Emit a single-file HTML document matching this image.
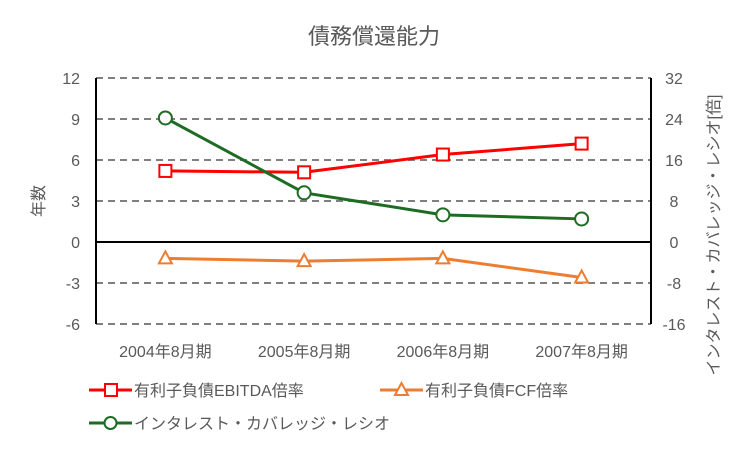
<!DOCTYPE html>
<html><head><meta charset="utf-8"><style>
body{margin:0;background:#fff}
svg text{font-family:"Liberation Sans","Noto Sans CJK JP",sans-serif;fill:#595959}
</style></head><body>
<svg id="chart" width="749" height="450" xmlns="http://www.w3.org/2000/svg">
<rect width="749" height="450" fill="#fff"/>
<text x="374" y="44" font-size="22" text-anchor="middle">債務償還能力</text>
<text transform="translate(44,201) rotate(-90)" font-size="16" text-anchor="middle">年数</text>
<text transform="translate(719,235) rotate(-90)" font-size="16" text-anchor="middle">インタレスト・カバレッジ・レシオ[倍]</text>
<g id="grid"></g><g id="axes"></g><g id="series"></g>
<g>
<g>
<line x1="89" y1="390" x2="132" y2="390" stroke="#ff0000" stroke-width="3"/><rect x="105" y="384" width="12" height="12" fill="#fff" stroke="#ff0000" stroke-width="2"/>
<text x="134" y="396" font-size="16">有利子負債EBITDA倍率</text></g>
<g>
<line x1="380" y1="390" x2="423" y2="390" stroke="#ed7d31" stroke-width="3"/><polygon points="401.5,383 408,395 395,395" fill="#fff" stroke="#ed7d31" stroke-width="2"/>
<text x="425" y="396" font-size="16">有利子負債FCF倍率</text></g>
<g>
<line x1="89" y1="423" x2="132" y2="423" stroke="#1e6b24" stroke-width="3"/><circle cx="110.5" cy="423" r="6" fill="#fff" stroke="#1e6b24" stroke-width="2"/>
<text x="134" y="429" font-size="16">インタレスト・カバレッジ・レシオ</text></g>
</g>
</svg>
<script>
const categories=["2004年8月期","2005年8月期","2006年8月期","2007年8月期"];
const leftTicks=[12,9,6,3,0,-3,-6];
const rightTicks=[32,24,16,8,0,-8,-16];
const ebitda=[5.2,5.1,6.4,7.2];
const fcf=[-1.2,-1.4,-1.2,-2.6];
const icr=[24.2,9.6,5.3,4.5];
const NS="http://www.w3.org/2000/svg";
const L=96,R=651,T=78,B=324;
const yL=v=>T+(12-v)/18*(B-T);
const yR=v=>T+(32-v)/48*(B-T);
const xC=i=>L+(i+0.5)*(R-L)/categories.length;
function mk(tag,attrs,parent){const e=document.createElementNS(NS,tag);for(const k in attrs)e.setAttribute(k,attrs[k]);document.getElementById(parent).appendChild(e);return e;}
leftTicks.forEach(v=>{
 if(v!==0){const g=mk('line',{x1:L,x2:R,y1:yL(v),y2:yL(v),stroke:'#7f7f7f','stroke-width':2,'stroke-dasharray':'7,5'},'grid');
 
 }
 const t=mk('text',{x:L-16,y:yL(v)+6,'font-size':16,'text-anchor':'end'},'axes');t.textContent=v;
 
 
});
rightTicks.forEach(v=>{const t=mk('text',{x:R+23,y:yR(v)+6,'font-size':16,'text-anchor':'middle'},'axes');t.textContent=v;
 
 });
categories.forEach((c,i)=>{const t=mk('text',{x:xC(i),y:357,'font-size':16,'text-anchor':'middle'},'axes');t.textContent=c;
 
 });
[L,R].forEach(a=>{const l=mk('line',{x1:a,x2:a,y1:T,y2:B,stroke:'#000','stroke-width':2},'axes');
 
 });
const z=mk('line',{x1:L,x2:R,y1:yL(0),y2:yL(0),stroke:'#000','stroke-width':2},'axes');


function series(vals,yf,color,shape,name){
 const p=mk('polyline',{points:vals.map((v,i)=>xC(i)+','+yf(v)).join(' '),fill:'none',stroke:color,'stroke-width':3},'series');
 
 
 vals.forEach((v,i)=>{const x=xC(i),y=yf(v);let m;
  if(shape==='sq')m=mk('rect',{x:x-6,y:y-6,width:12,height:12,fill:'#fff',stroke:color,'stroke-width':2},'series');
  else if(shape==='tri')m=mk('polygon',{points:`${x},${y-7} ${x+6.5},${y+5} ${x-6.5},${y+5}`,fill:'#fff',stroke:color,'stroke-width':2},'series');
  else m=mk('circle',{cx:x,cy:y,r:6.5,fill:'#fff',stroke:color,'stroke-width':2},'series');
  
  
 });
}
series(ebitda,yL,'#ff0000','sq','ebitda');
series(fcf,yL,'#ed7d31','tri','fcf');
series(icr,yR,'#1e6b24','c','icr');
</script>
</body></html>
